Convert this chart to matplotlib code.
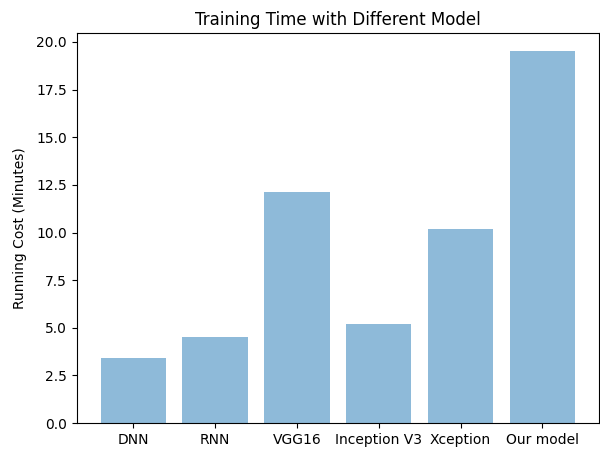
import matplotlib
matplotlib.use('Agg')
import matplotlib.pyplot as plt
import numpy as np

models = ['DNN', 'RNN', 'VGG16', 'Inception V3', 'Xception', 'Our model']
minutes = [3.4, 4.5, 12.1, 5.2, 10.2, 19.5]


def plot_chart():
	fig = plt.figure(figsize=(6, 4.51), dpi=100)
	ax = fig.add_axes([0.128, 0.062, 0.87, 0.865])
	pos = np.arange(len(models))
	ax.bar(pos, minutes, align='center', alpha=0.5)
	ax.set_xticks(pos)
	ax.set_xticklabels(models)
	ax.set_ylabel('Running Cost (Minutes)', labelpad=7)
	ax.set_title('Training Time with Different Model')
	fig.savefig('out.png')


plot_chart()
